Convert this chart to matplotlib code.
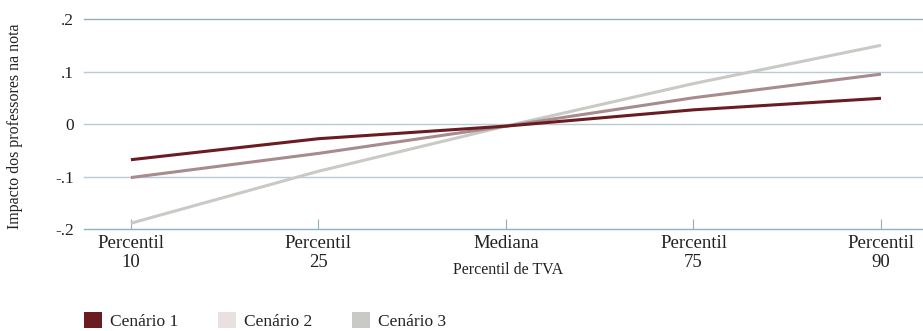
import matplotlib
matplotlib.use("Agg")
import matplotlib.pyplot as plt
from matplotlib.patches import Patch

categories = ["Percentil\n10", "Percentil\n25", "Mediana", "Percentil\n75", "Percentil\n90"]
cenario1 = [-0.068, -0.028, -0.004, 0.027, 0.049]
cenario2 = [-0.102, -0.056, -0.004, 0.050, 0.095]
cenario3 = [-0.189, -0.090, -0.004, 0.077, 0.150]
yticks = [-0.2, -0.1, 0.0, 0.1, 0.2]
ytick_labels = ["-.2", "-.1", "0", ".1", ".2"]
series_names = ["Cenário 1", "Cenário 2", "Cenário 3"]

line_colors = ["#6b1c20", "#a88b8f", "#c9c9c5"]
legend_colors = ["#6b1c20", "#ebe0e0", "#c9c9c5"]
grid_color = "#b8cbd6"
edge_color = "#93aebd"

plt.rcParams["font.family"] = ["Liberation Serif", "DejaVu Serif"]

fig = plt.figure(figsize=(9.23, 3.31), dpi=100)
ax = fig.add_axes([84 / 923, (331 - 229) / 331, 1 - 84 / 923, (229 - 16.4) / 331])

x = list(range(len(categories)))
ax.plot(x, cenario3, color=line_colors[2], lw=2.2, solid_capstyle="butt", zorder=3)
ax.plot(x, cenario2, color=line_colors[1], lw=2.2, solid_capstyle="butt", zorder=4)
ax.plot(x, cenario1, color=line_colors[0], lw=2.2, solid_capstyle="butt", zorder=5)

ax.set_xlim(-0.25, 4.224)
ax.set_ylim(-0.2, 0.205)

for y in yticks:
    c = edge_color if y in (yticks[0], yticks[-1]) else grid_color
    ax.axhline(y, color=c, lw=1.0, zorder=1, clip_on=False)

for s in ax.spines.values():
    s.set_visible(False)

ax.set_xticks(x)
ax.set_xticklabels(categories, fontsize=13.5, color="#222222", linespacing=1.15)
ax.tick_params(axis="x", direction="in", length=7, color=edge_color, width=0.8, pad=4)
ax.set_yticks(yticks)
ax.set_yticklabels(ytick_labels, fontsize=12.5, color="#222222")
ax.tick_params(axis="y", length=0, pad=7)

fig.text(508 / 923, (331 - 270) / 331, "Percentil de TVA", fontsize=11.5,
         color="#222222", ha="center", va="center")
fig.text(15 / 923, (331 - 126) / 331, "Impacto dos professores na nota", rotation=90,
         fontsize=11.5, color="#222222", ha="center", va="center")

handles = [Patch(facecolor=c, edgecolor="none") for c in legend_colors]
fig.legend(handles, series_names, loc="lower left", bbox_to_anchor=(68 / 923, -0.045),
           ncol=3, frameon=False, fontsize=12.5, handlelength=1.05, handleheight=1.05,
           handletextpad=0.45, columnspacing=2.3, labelcolor="#222222")

fig.savefig("out.png", dpi=100)
